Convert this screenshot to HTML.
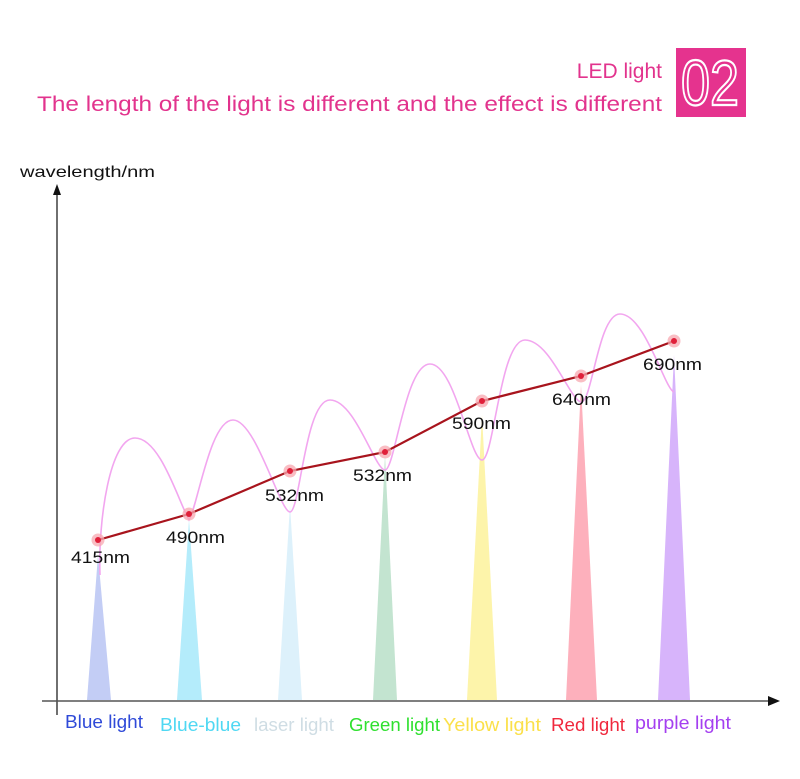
<!DOCTYPE html>
<html><head><meta charset="utf-8"><style>
html,body{margin:0;padding:0;background:#fff;}
svg{display:block;}
</style></head><body>
<svg width="800" height="779" viewBox="0 0 800 779" xmlns="http://www.w3.org/2000/svg">
<defs>
<linearGradient id="g" x1="0" y1="0" x2="0" y2="1"><stop offset="0" stop-color="#fff" stop-opacity="0.6"/><stop offset="0.3" stop-color="#fff" stop-opacity="0"/></linearGradient>
</defs>
<text x="662" y="78" text-anchor="end" font-family="Liberation Sans, sans-serif" font-size="21" fill="#e2338d">LED light</text>
<text x="37" y="111" textLength="625" lengthAdjust="spacingAndGlyphs" font-family="Liberation Sans, sans-serif" font-size="21" fill="#e2338d">The length of the light is different and the effect is different</text>
<rect x="676" y="48" width="70" height="69" fill="#e5338e"/>
<text x="710" y="105" text-anchor="middle" font-family="Liberation Sans, sans-serif" font-size="64" fill="none" stroke="#fff" stroke-width="2.2" textLength="58" lengthAdjust="spacingAndGlyphs">02</text>

<text x="20" y="177" font-family="Liberation Sans, sans-serif" font-size="16" fill="#111" textLength="135" lengthAdjust="spacingAndGlyphs">wavelength/nm</text>
<line x1="57" y1="192" x2="57" y2="715" stroke="#222" stroke-width="1.3"/>
<polygon points="57,184 53,195 61,195" fill="#111"/>
<line x1="42" y1="701" x2="770" y2="701" stroke="#555" stroke-width="1.6"/>
<polygon points="780,701 768,696 768,706" fill="#111"/>

<!-- cones -->
<polygon points="98,555 87,700 111,700" fill="#c3cdf5"/>
<polygon points="189,520 177,700 202,700" fill="#b4ecfb"/>
<polygon points="290,505 278,700 302,700" fill="#ddf1fb"/>
<polygon points="385,455 373,700 397,700" fill="#c3e4d0"/>
<polygon points="482,415 467,700 497,700" fill="#fdf4aa"/>
<polygon points="581,385 566,700 597,700" fill="#fdb0bc"/>
<polygon points="674,355 658,700 690,700" fill="#d7b4fb"/>

<!-- pink wave -->
<path d="M100,575 C98,520 110,438 135,438 C160,438 178,500 189,520 C198,505 210,420 233,420 C256,420 280,512 290,512 C300,512 305,400 330,400 C355,400 375,470 385,470 C395,470 405,364 430,364 C455,364 470,460 482,460 C494,460 500,340 525,340 C550,340 570,400 581,402 C592,404 598,314 620,314 C645,314 665,390 674,392" fill="none" stroke="#f2a6ef" stroke-width="1.6"/>

<!-- main line -->
<polyline points="98,540 189,514 290,471 385,452 482,401 581,376 674,341" fill="none" stroke="#a8141d" stroke-width="2.2"/>
<g fill="#f7a8b0" opacity="0.75">
<circle cx="98" cy="540" r="6.5"/><circle cx="189" cy="514" r="6.5"/><circle cx="290" cy="471" r="6.5"/><circle cx="385" cy="452" r="6.5"/><circle cx="482" cy="401" r="6.5"/><circle cx="581" cy="376" r="6.5"/><circle cx="674" cy="341" r="6.5"/>
</g>
<g fill="#e0203a">
<circle cx="98" cy="540" r="3"/><circle cx="189" cy="514" r="3"/><circle cx="290" cy="471" r="3"/><circle cx="385" cy="452" r="3"/><circle cx="482" cy="401" r="3"/><circle cx="581" cy="376" r="3"/><circle cx="674" cy="341" r="3"/>
</g>

<g font-family="Liberation Sans, sans-serif" font-size="17" fill="#111">
<text x="71" y="563" textLength="59" lengthAdjust="spacingAndGlyphs">415nm</text>
<text x="166" y="543" textLength="59" lengthAdjust="spacingAndGlyphs">490nm</text>
<text x="265" y="501" textLength="59" lengthAdjust="spacingAndGlyphs">532nm</text>
<text x="353" y="481" textLength="59" lengthAdjust="spacingAndGlyphs">532nm</text>
<text x="452" y="429" textLength="59" lengthAdjust="spacingAndGlyphs">590nm</text>
<text x="552" y="405" textLength="59" lengthAdjust="spacingAndGlyphs">640nm</text>
<text x="643" y="370" textLength="59" lengthAdjust="spacingAndGlyphs">690nm</text>
</g>

<g font-family="Liberation Sans, sans-serif" font-size="18" lengthAdjust="spacingAndGlyphs">
<text x="65" y="728" textLength="78" fill="#2f4ad8" lengthAdjust="spacingAndGlyphs">Blue light</text>
<text x="160" y="731" textLength="81" fill="#4fd8f3" lengthAdjust="spacingAndGlyphs">Blue-blue</text>
<text x="254" y="731" textLength="80" fill="#cfdde4" lengthAdjust="spacingAndGlyphs">laser light</text>
<text x="349" y="731" textLength="91" fill="#2fe02f" lengthAdjust="spacingAndGlyphs">Green light</text>
<text x="443" y="731" textLength="98" fill="#fbe04a" lengthAdjust="spacingAndGlyphs">Yellow light</text>
<text x="551" y="731" textLength="74" fill="#f0283d" lengthAdjust="spacingAndGlyphs">Red light</text>
<text x="635" y="729" textLength="96" fill="#a43ff0" lengthAdjust="spacingAndGlyphs">purple light</text>
</g>
</svg>
</body></html>
